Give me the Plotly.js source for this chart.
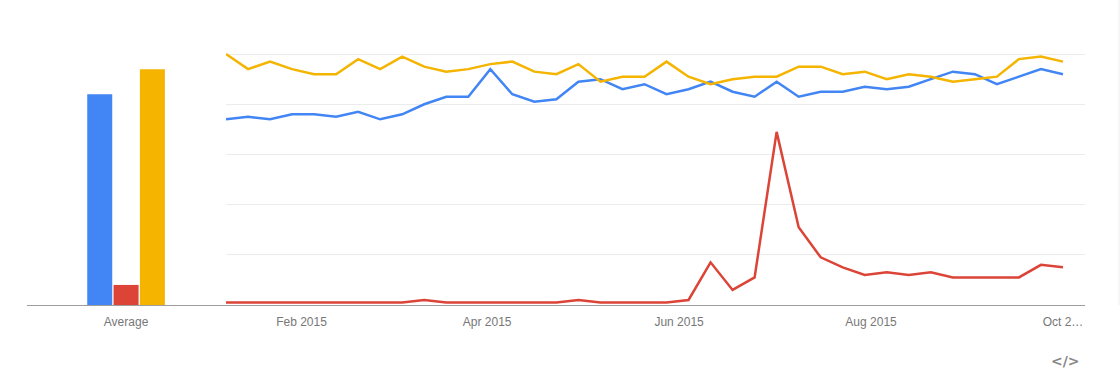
<!DOCTYPE html>
<html>
<head>
<meta charset="utf-8">
<script src="https://cdn.plot.ly/plotly-3.0.1.min.js"></script>
<style>
html,body{margin:0;padding:0;background:#fff;}
#chart{width:1120px;height:391px;}
</style>
</head>
<body>
<div id="chart"></div>
<script>
// Weekly dates (first point of each week)
const startDate = '2015-01-08';
const weeks = 39;
const dates = [];
for (let i = 0; i < weeks; i++) {
  const d = new Date(Date.UTC(2015, 0, 8 + 7 * i));
  dates.push(d.toISOString().slice(0, 10));
}

const blueValues = [74,75,74,76,76,75,77,74,76,80,83,83,94,84,81,82,89,90,86,88,84,86,89,85,83,89,83,85,85,87,86,87,90,93,92,88,91,94,92];
const redValues = [1,1,1,1,1,1,1,1,1,2,1,1,1,1,1,1,2,1,1,1,1,2,17,6,11,69,31,19,15,12,13,12,13,11,11,11,11,16,15];
const yellowValues = [100,94,97,94,92,92,98,94,99,95,93,94,96,97,93,92,96,89,91,91,97,91,88,90,91,91,95,95,92,93,90,92,91,89,90,91,98,99,97];

const averageCategory = ['Average'];
const blueAverage = [84];
const redAverage = [8];
const yellowAverage = [94];

const tickVals = ['2015-02-01','2015-04-01','2015-06-01','2015-08-01','2015-10-01'];
const tickText = ['Feb 2015','Apr 2015','Jun 2015','Aug 2015','Oct 2\u2026'];

const BLUE = '#4285f4', RED = '#db4437', YELLOW = '#f4b400';
const W = 1120;
const yRange = [0, 109.6];
const labelFont = {family: 'Liberation Sans, Arial, sans-serif', size: 12, color: '#777'};

const data = [
  {type:'bar', x: averageCategory, y: blueAverage, marker:{color:BLUE}, xaxis:'x', yaxis:'y', hoverinfo:'none'},
  {type:'bar', x: averageCategory, y: redAverage, marker:{color:RED}, xaxis:'x', yaxis:'y', hoverinfo:'none'},
  {type:'bar', x: averageCategory, y: yellowAverage, marker:{color:YELLOW}, xaxis:'x', yaxis:'y', hoverinfo:'none'},
  {type:'scatter', mode:'lines', x: dates, y: blueValues, line:{color:BLUE, width:2.5}, xaxis:'x2', yaxis:'y2', hoverinfo:'none'},
  {type:'scatter', mode:'lines', x: dates, y: redValues, line:{color:RED, width:2.5}, xaxis:'x2', yaxis:'y2', hoverinfo:'none'},
  {type:'scatter', mode:'lines', x: dates, y: yellowValues, line:{color:YELLOW, width:2.5}, xaxis:'x2', yaxis:'y2', hoverinfo:'none'}
];

const layout = {
  width: W, height: 391,
  margin: {l:0, r:0, t:30, b:86},
  paper_bgcolor:'#fff', plot_bgcolor:'rgba(0,0,0,0)',
  showlegend:false,
  barmode:'group', bargap:0.611, bargroupgap:0.05,
  xaxis: {
    domain:[27/W, 230/W], type:'category', range:[-0.488, 0.512],
    showgrid:false, zeroline:false, showline:true, linecolor:'#9e9e9e', linewidth:1,
    ticks:'', ticklabelstandoff:6, tickfont: labelFont, fixedrange:true
  },
  yaxis: {
    domain:[0,1], range: yRange, showgrid:false, zeroline:false, showticklabels:false, fixedrange:true
  },
  xaxis2: {
    domain:[226/W, 1085/W], type:'date', range:['2015-01-08','2015-10-08'],
    tickvals: tickVals, ticktext: tickText, showgrid:false, zeroline:false,
    showline:true, linecolor:'#9e9e9e', linewidth:1, ticks:'', ticklabelstandoff:6, tickfont: labelFont, fixedrange:true
  },
  yaxis2: {
    domain:[0,1], anchor:'x2', range: yRange, tickvals:[20,40,60,80,100],
    showgrid:true, gridcolor:'#ececec', gridwidth:1, zeroline:false, showticklabels:false, fixedrange:true
  },
  shapes: [
    {type:'line', xref:'paper', yref:'paper', x0:1119/W, x1:1119/W, y0:0, y1:1.4, line:{color:'#eeeeee', width:1}}
  ],
  annotations: [
    {xref:'paper', yref:'paper', x:1065/W, y:-0.204, text:'<b>&lt;/&gt;</b>', showarrow:false,
     font:{family:'DejaVu Sans, sans-serif', size:14, color:'#888'}, xanchor:'center', yanchor:'middle'}
  ]
};

Plotly.newPlot('chart', data, layout, {displayModeBar:false, staticPlot:true});
</script>
</body>
</html>
